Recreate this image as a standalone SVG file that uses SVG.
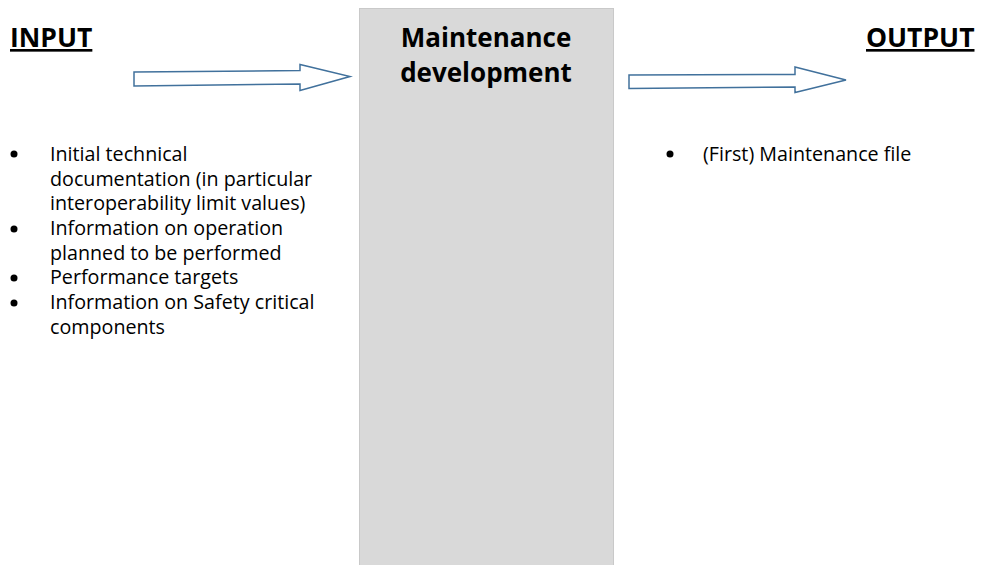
<svg xmlns="http://www.w3.org/2000/svg" width="984" height="565" viewBox="0 0 984 565">
<style>
.hd{font-family:"Open Sans","Liberation Sans",sans-serif;font-weight:bold;font-size:26.5px;fill:#000;text-decoration:underline}
.tt{font-family:"Open Sans","Liberation Sans",sans-serif;font-weight:bold;font-size:26px;fill:#000}
.tx{font-family:"Open Sans","Liberation Sans",sans-serif;font-size:19.7px;fill:#000}
.arr{fill:#fff;stroke:#41719c;stroke-width:1.5;stroke-linejoin:miter}
</style>
<rect width="984" height="565" fill="#fff"/>
<g id="process">
<rect x="359.5" y="8.5" width="254" height="560" fill="#d9d9d9" stroke="#c9c9c9" stroke-width="1"/>
<text class="tt" x="486" y="47" text-anchor="middle">Maintenance</text>
<text class="tt" x="486" y="82" text-anchor="middle">development</text>
</g>
<g id="input">
<text class="hd" x="10" y="47">INPUT</text>
<g class="tx">
<circle cx="14" cy="154" r="3.5"/>
<text x="50" y="161">Initial technical</text>
<text x="50" y="185.5">documentation (in particular</text>
<text x="50" y="210">interoperability limit values)</text>
<circle cx="14" cy="229" r="3.5"/>
<text x="50" y="235">Information on operation</text>
<text x="50" y="259.5">planned to be performed</text>
<circle cx="14" cy="278" r="3.5"/>
<text x="50" y="284">Performance targets</text>
<circle cx="14" cy="303" r="3.5"/>
<text x="50" y="309">Information on Safety critical</text>
<text x="50" y="333.5">components</text>
</g>
</g>
<g id="output">
<text class="hd" x="866" y="47">OUTPUT</text>
<circle cx="670" cy="154" r="3.5"/>
<text class="tx" x="703" y="161">(First) Maintenance file</text>
</g>
<g id="connectors">
<polygon class="arr" points="134,72 300,70.5 300,64.5 350,76.5 300,90.5 300,84 134,86"/>
<polygon class="arr" points="629,75 795,74.5 795,67 846,80 795,92.5 795,87 629,88.5"/>
</g>
</svg>
